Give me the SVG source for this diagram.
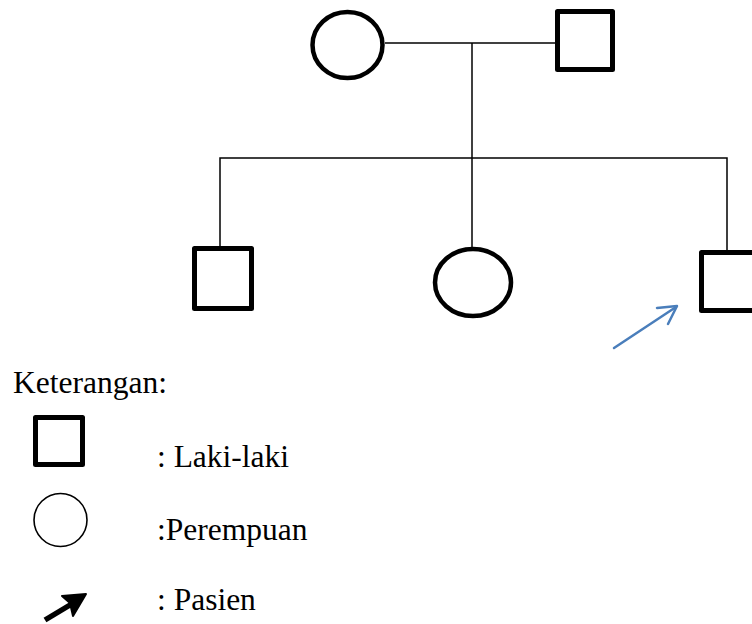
<svg xmlns="http://www.w3.org/2000/svg" width="752" height="624" viewBox="0 0 752 624">
  <style>
    .male { fill: #fff; stroke: #000; stroke-width: 5; stroke-linejoin: round; }
    .female { fill: #fff; stroke: #000; stroke-width: 4.5; }
    .line { fill: none; stroke: #000; stroke-width: 1.5; }
    .label { font-family: "Liberation Serif", "Times New Roman", serif; font-size: 31.5px; fill: #000; }
    .pointer { fill: none; stroke: #4a7ebb; stroke-width: 2.5; stroke-linecap: round; stroke-linejoin: round; }
  </style>

  <!-- connectors -->
  <g id="connectors">
    <line class="line" x1="385" y1="43" x2="555" y2="43"/>
    <line class="line" x1="472" y1="43" x2="472" y2="158"/>
    <polyline class="line" points="220,248 220,158 727,158 727,250"/>
    <line class="line" x1="472" y1="158" x2="472" y2="248"/>
  </g>

  <!-- parents -->
  <g id="mother">
    <ellipse class="female" cx="347.5" cy="45" rx="35" ry="33"/>
  </g>
  <g id="father">
    <rect class="male" x="557.5" y="11.5" width="55" height="58"/>
  </g>

  <!-- children -->
  <g id="son1">
    <rect class="male" x="194.5" y="248.5" width="57" height="60"/>
  </g>
  <g id="daughter">
    <ellipse class="female" cx="473" cy="282.5" rx="38" ry="33.5"/>
  </g>
  <g id="son2">
    <rect class="male" x="701.5" y="252.5" width="60" height="58"/>
  </g>

  <!-- proband pointer -->
  <g id="proband-arrow">
    <line class="pointer" x1="614" y1="348" x2="676" y2="307"/>
    <polyline class="pointer" points="657,308 677,306 668,324"/>
  </g>

  <!-- key -->
  <g id="legend">
    <text class="label" x="13" y="393">Keterangan:</text>
    <rect class="male" x="35.5" y="417.5" width="47" height="47"/>
    <text class="label" x="157" y="467">: Laki-laki</text>
    <circle cx="60.5" cy="520" r="26.5" fill="#fff" stroke="#000" stroke-width="1.6"/>
    <text class="label" x="157" y="540">:Perempuan</text>
    <line x1="45" y1="620" x2="75" y2="602" stroke="#000" stroke-width="5.5"/>
    <polygon points="86,594 62,596 70,603 73,616" fill="#000" stroke="#000" stroke-width="2" stroke-linejoin="round"/>
    <text class="label" x="157" y="610">: Pasien</text>
  </g>
</svg>
